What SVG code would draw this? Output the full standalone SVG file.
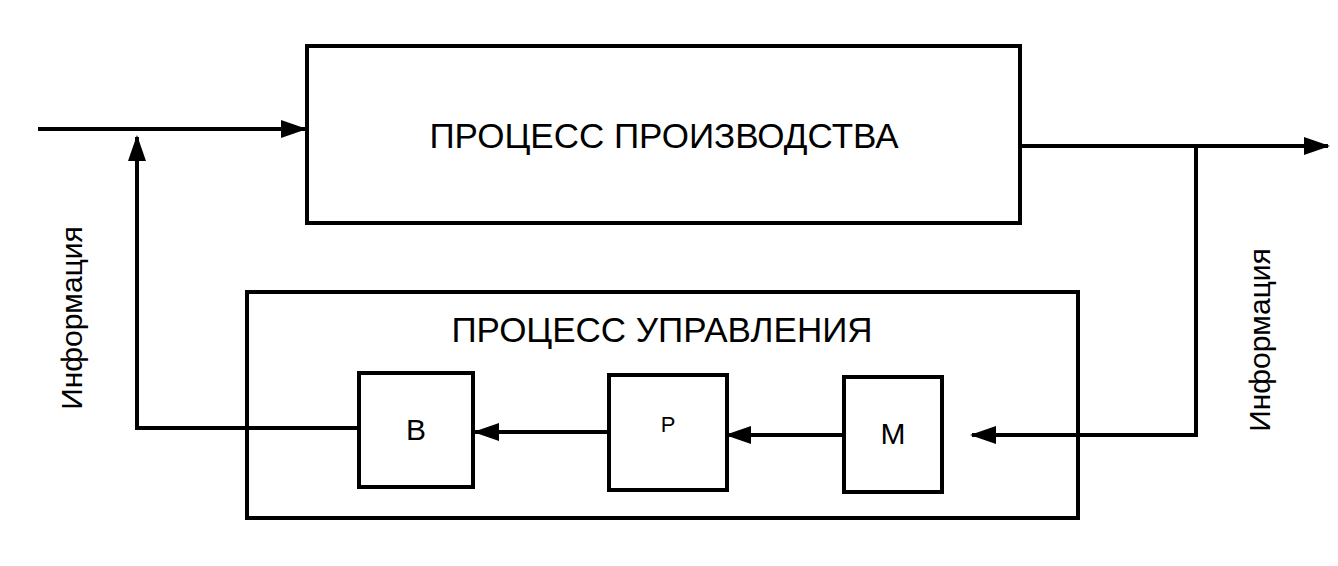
<svg xmlns="http://www.w3.org/2000/svg" width="1338" height="566" viewBox="0 0 1338 566">
<defs>
<marker id="a" markerWidth="26" markerHeight="18" refX="24" refY="9" orient="auto" markerUnits="userSpaceOnUse"><path d="M0,0 L26,9 L0,18 z" fill="#000"/></marker>
<style>.b{fill:#fff;stroke:#000;stroke-width:4}.l{fill:none;stroke:#000;stroke-width:4}text{font-family:"Liberation Sans",Arial,sans-serif;fill:#000}</style>
</defs>
<rect width="1338" height="566" fill="#fff"/>
<g id="prod"><rect class="b" x="307" y="46" width="713" height="177"/><text x="664" y="148" font-size="35" text-anchor="middle">ПРОЦЕСС ПРОИЗВОДСТВА</text></g>
<g id="upr"><rect class="b" x="247" y="292" width="831" height="226"/><text x="662" y="342" font-size="35" text-anchor="middle">ПРОЦЕСС УПРАВЛЕНИЯ</text></g>
<g id="B"><rect class="b" x="359" y="373" width="114" height="114"/><text x="416" y="440" font-size="30" text-anchor="middle">В</text></g>
<g id="R"><rect class="b" x="609" y="375" width="118" height="115"/><text x="668" y="432" font-size="22" text-anchor="middle">Р</text></g>
<g id="M"><rect class="b" x="844" y="377" width="98" height="115"/><text x="893" y="444" font-size="30" text-anchor="middle">М</text></g>
<g id="connectors">
<path class="l" d="M38,129 H305" marker-end="url(#a)"/>
<path class="l" d="M1020,146 H1328" marker-end="url(#a)"/>
<path class="l" d="M1196,146 V435 H972" marker-end="url(#a)"/>
<path class="l" d="M844,435 H727" marker-end="url(#a)"/>
<path class="l" d="M609,432 H475" marker-end="url(#a)"/>
<path class="l" d="M359,428 H137 V137" marker-end="url(#a)"/>
</g>
<text transform="translate(82,318) rotate(-90)" font-size="30" text-anchor="middle">Информация</text>
<text transform="translate(1270,340) rotate(-90)" font-size="30" text-anchor="middle">Информация</text>
</svg>
